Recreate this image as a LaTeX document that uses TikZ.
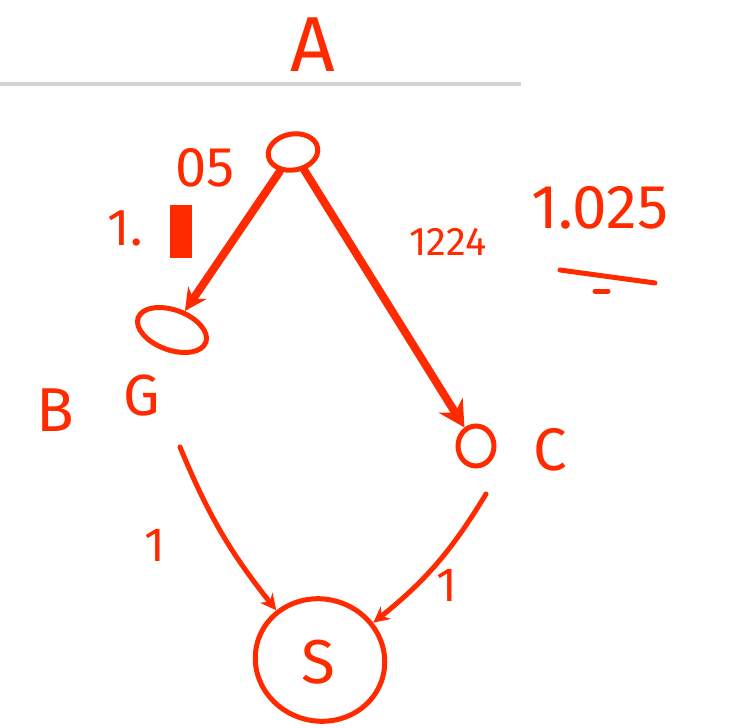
\documentclass[tikz,border=0pt]{standalone}
\usepackage{fontspec}
\setmainfont{Fira Sans}
\usetikzlibrary{arrows.meta,shapes.geometric}
\definecolor{ink}{HTML}{FF2A00}
\definecolor{rule}{HTML}{D3D3D3}
\tikzset{
  pen/.style={draw=ink, line width=5pt, line cap=round, line join=round},
  fatpen/.style={draw=ink, line width=8pt, line cap=round, line join=round},
  hand/.style={text=ink, inner sep=0pt},
  vertex/.style={draw=ink, line width=5pt, ellipse, inner sep=0pt},
  edgearrow/.style={pen, -{Stealth[length=16pt,width=16pt]}},
}
\begin{document}
\begin{tikzpicture}[x=1pt,y=-1pt]
\useasboundingbox (0,0) rectangle (728,728);
% title and rule
\node[hand, font=\fontsize{78}{78}\selectfont] (title) at (313,45) {A};
\draw[draw=rule, line width=4pt] (0,84) -- (521,84);
% vertices
\node[vertex, minimum width=50pt, minimum height=36pt, rotate=10] (a) at (293,152) {};
\node[vertex, minimum width=72pt, minimum height=40pt, rotate=-20] (b) at (172,330) {};
\node[vertex, minimum width=36pt, minimum height=40pt] (c) at (476,446) {};
\node[vertex, minimum width=130pt, minimum height=122pt, rotate=-15] (s) at (320,660) {};
\node[hand, font=\fontsize{62}{62}\selectfont] (slabel) at (318,662) {S};
% vertex labels
\node[hand, font=\fontsize{62}{62}\selectfont] (blabel) at (55,410) {B};
\node[hand, font=\fontsize{58}{58}\selectfont] (glabel) at (142,396) {G};
\node[hand, font=\fontsize{60}{60}\selectfont] (clabel) at (550,450) {C};
% edges
\draw[fatpen, -{Stealth[length=22pt,width=22pt]}] (a) -- (b);
\draw[fatpen, -{Stealth[length=26pt,width=28pt]}] (a) -- (c);
\coordinate (gout) at (180,447);
\coordinate (cout) at (486,494);
\draw[edgearrow] (gout) to[bend right=8] (s);
\draw[edgearrow] (cout) to[bend left=10] (s);
% weights
\node[hand, font=\fontsize{56}{56}\selectfont] (w05) at (205,168) {05};
\node[hand, font=\fontsize{52}{52}\selectfont] (w11) at (125,228) {1.};
\fill[ink] (170,205) rectangle (192,258);
\node[hand, font=\fontsize{40}{40}\selectfont] (scrib) at (448,242) {1224};
\node[hand, font=\fontsize{62}{62}\selectfont] (w1025) at (600,208) {1.025};
\draw[pen] (560,270) -- (655,283);
\draw[pen] (595,291) -- (608,291);
\node[hand, font=\fontsize{48}{48}\selectfont] (w1a) at (155,545) {1};
\node[hand, font=\fontsize{48}{48}\selectfont] (w1b) at (447,585) {1};
\end{tikzpicture}
\end{document}
